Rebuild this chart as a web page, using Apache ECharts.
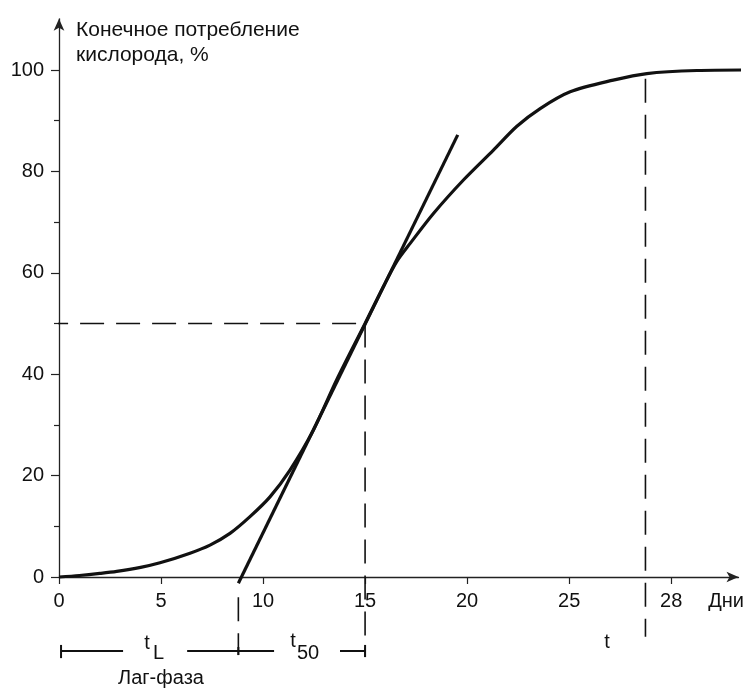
<!DOCTYPE html>
<html><head><meta charset="utf-8">
<script src="https://cdn.jsdelivr.net/npm/echarts@6/dist/echarts.min.js"></script>
<style>html,body{margin:0;padding:0;background:#fff}#c{width:752px;height:690px}</style>
</head><body><div id="c"></div>
<script>
// ---- data ----
const xTickValues = [0, 5, 10, 15, 20, 25, 30];
const xTickLabels = ['0', '5', '10', '15', '20', '25', '28'];
const yLabelValues = [0, 20, 40, 60, 80, 100];
const yMinorTickValues = [10, 30, 50, 70, 90];

const curveDays   = [0, 1, 2, 2.83, 4, 4.95, 6.42, 7.4, 8.38, 9.36, 10.34, 11.32, 12.47, 13.61, 15, 15.9, 16.55, 17.21, 18.35, 19.82, 21.29, 22.44, 23.58, 25.05, 27.16, 28.81, 31.26, 33.87];
const curveOxygen = [0, 0.3, 0.7, 1.1, 1.9, 2.8, 4.7, 6.3, 8.6, 11.9, 15.8, 21.1, 29, 38.9, 50, 57.3, 62.2, 65.8, 71.7, 78.3, 84.2, 88.9, 92.4, 95.7, 98.0, 99.3, 99.9, 100];

const tangentDays   = [8.79, 19.54];
const tangentOxygen = [-1.24, 87.2];

const halfLineDays   = [-0.73, 15];
const halfLineOxygen = [50, 50];
const t50LineDays    = [15, 15];
const t50LineOxygen  = [50, -15.8];
const tLagLineDays   = [8.79, 8.79];
const tLagLineOxygen = [-4, -15.4];
const tEndLineDays   = [28.74, 28.74];
const tEndLineOxygen = [98.3, -11.8];

const bracketY = -14.6;
const bracketSegDays = [[0.1, 3.14], [6.28, 10.54], [13.77, 14.99]];
const bracketEndDays = [0.1, 8.79, 15];
const bracketEndOxygen = [[-13.4, -16.0], [-13.8, -15.4], [-13.4, -15.8]];

// ---- build ----
const pts = (xs, ys) => xs.map((x, i) => [x, ys[i]]);
const FONT = "'Liberation Sans', Arial, sans-serif";
const INK = '#111';

const series = [];
series.push({ type: 'line', data: pts(curveDays, curveOxygen), smooth: 0.3, symbol: 'none', clip: false,
  lineStyle: { color: INK, width: 3.2 }, z: 5 });
series.push({ type: 'line', data: pts(tangentDays, tangentOxygen), symbol: 'none', clip: false,
  lineStyle: { color: INK, width: 3.2 }, z: 5 });
[[halfLineDays, halfLineOxygen], [t50LineDays, t50LineOxygen], [tLagLineDays, tLagLineOxygen], [tEndLineDays, tEndLineOxygen]]
  .forEach(([xs, ys]) => series.push({ type: 'line', data: pts(xs, ys), symbol: 'none', clip: false,
    lineStyle: { color: INK, width: 1.6, type: [24, 12] }, z: 3 }));
bracketSegDays.forEach(seg => series.push({ type: 'line', data: seg.map(x => [x, bracketY]), symbol: 'none', clip: false,
  lineStyle: { color: INK, width: 2 }, z: 3 }));
bracketEndDays.forEach((x, i) => series.push({ type: 'line', data: bracketEndOxygen[i].map(y => [x, y]), symbol: 'none', clip: false,
  lineStyle: { color: INK, width: 2 }, z: 3 }));

const txt = (text, x, y, size, align) => ({ type: 'text', x, y,
  style: { text, font: `${size}px ${FONT}`, fill: INK, textAlign: align || 'left', textVerticalAlign: 'middle' } });

const chart = echarts.init(document.getElementById('c'), null, { renderer: 'canvas' });
chart.setOption({
  animation: false,
  backgroundColor: '#fff',
  grid: { left: 59, right: 13.5, top: 18.8, bottom: 113 },
  xAxis: {
    type: 'value', min: 0, max: 33.3,
    splitLine: { show: false },
    axisLine: { lineStyle: { color: '#222', width: 1.3 }, symbol: ['none', 'arrow'], symbolSize: [8, 12] },
    axisTick: { customValues: xTickValues, length: 7, lineStyle: { color: '#222', width: 1.2 } },
    axisLabel: { customValues: xTickValues, margin: 14, color: INK, fontSize: 20, fontFamily: FONT,
      formatter: v => xTickLabels[xTickValues.indexOf(v)] }
  },
  yAxis: [{
    type: 'value', min: 0, max: 110.1,
    splitLine: { show: false },
    axisLine: { lineStyle: { color: '#222', width: 1.3 }, symbol: ['none', 'arrow'], symbolSize: [8, 12] },
    axisTick: { customValues: yLabelValues, length: 8, lineStyle: { color: '#222', width: 1.2 } },
    axisLabel: { customValues: yLabelValues, margin: 15, color: INK, fontSize: 20, fontFamily: FONT }
  }, {
    type: 'value', min: 0, max: 110.1, position: 'left',
    splitLine: { show: false }, axisLine: { show: false }, axisLabel: { show: false },
    axisTick: { customValues: yMinorTickValues, length: 5, lineStyle: { color: '#222', width: 1.2 } }
  }],
  series,
  graphic: [
    txt('Конечное потребление', 76, 30, 21),
    txt('кислорода, %', 76, 55, 21),
    txt('Дни', 744, 601, 20, 'right'),
    txt('t', 147, 643, 20, 'center'),
    txt('L', 153, 653, 20),
    txt('t', 293, 641, 20, 'center'),
    txt('50', 297, 653, 20),
    txt('Лаг-фаза', 161, 678, 20, 'center'),
    txt('t', 607, 642, 20, 'center')
  ]
});
</script></body></html>
